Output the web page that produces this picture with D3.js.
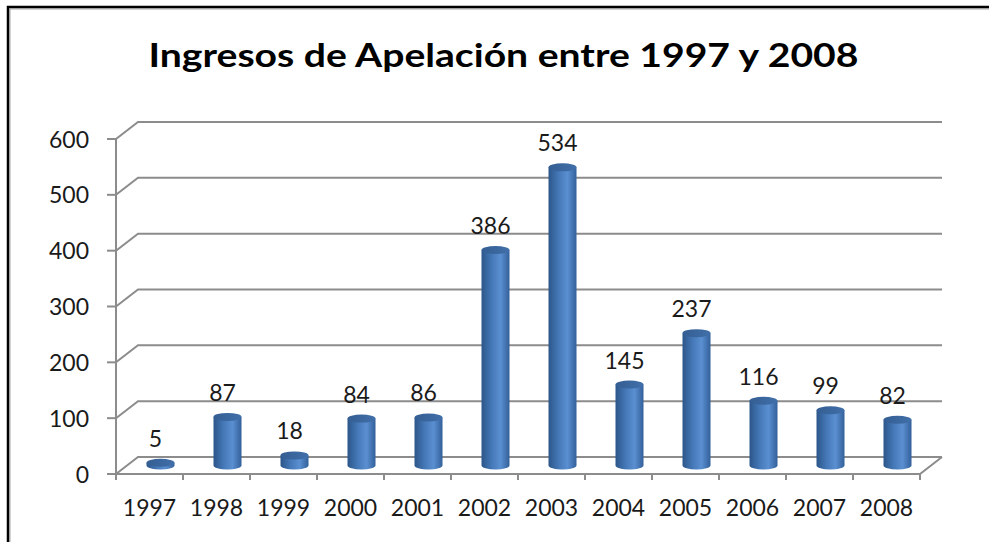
<!DOCTYPE html>
<html>
<head>
<meta charset="utf-8">
<script src="https://d3js.org/d3.v7.min.js"></script>
<style>
  body { margin: 0; background: #fff; }
  svg { display: block; }
</style>
</head>
<body>
<svg id="chart"></svg>
<script>
var titleText = 'Ingresos de Apelación entre 1997 y 2008'
var years = ['1997', '1998', '1999', '2000', '2001', '2002', '2003', '2004', '2005', '2006', '2007', '2008']
var ingresos = [5, 87, 18, 84, 86, 386, 534, 145, 237, 116, 99, 82]
var yTicks = [0, 100, 200, 300, 400, 500, 600]

var width = 989
var height = 542
var depthX = 22, depthY = -17
var gridColor = '#8c8c8c'
var font = 'Lato, "Open Sans", sans-serif'

var svg = d3.select('#chart')
    .attr('width', width)
    .attr('height', height)

var defs = svg.append('defs')
var bodyGrad = defs.append('linearGradient').attr('id', 'bodyGrad')
    .attr('x1', '0%').attr('x2', '100%').attr('y1', '0%').attr('y2', '0%')
bodyGrad.append('stop').attr('offset', '0%').attr('stop-color', '#2c5689')
bodyGrad.append('stop').attr('offset', '35%').attr('stop-color', '#4477b6')
bodyGrad.append('stop').attr('offset', '68%').attr('stop-color', '#5a8fd1')
bodyGrad.append('stop').attr('offset', '100%').attr('stop-color', '#33609a')

var topGrad = defs.append('linearGradient').attr('id', 'topGrad')
    .attr('x1', '0%').attr('x2', '100%').attr('y1', '0%').attr('y2', '0%')
topGrad.append('stop').attr('offset', '0%').attr('stop-color', '#345e93')
topGrad.append('stop').attr('offset', '100%').attr('stop-color', '#416fa9')

// chart frame
svg.append('path')
    .attr('d', 'M10,' + height + ' L10,9 L' + width + ',9')
    .attr('fill', 'none')
    .attr('stroke', '#a8a8a8')
    .attr('stroke-width', 1)
svg.append('path')
    .attr('d', 'M8,' + height + ' L8,7 L' + width + ',7')
    .attr('fill', 'none')
    .attr('stroke', '#000')
    .attr('stroke-width', 2.5)

// title
svg.append('text')
    .attr('x', 503.5)
    .attr('y', 67)
    .attr('text-anchor', 'middle')
    .attr('font-family', font)
    .attr('font-weight', 'bold')
    .attr('font-size', 33)
    .attr('textLength', 710)
    .attr('lengthAdjust', 'spacingAndGlyphs')
    .attr('fill', '#000')
    .text(titleText)

var xScale = d3.scaleBand().domain(years).range([116, 920]).padding(0)
var yScale = d3.scaleLinear().domain([0, 600]).range([474, 139])

var g = svg.append('g')

// back gridlines with diagonal to the front axis
yTicks.forEach(function (t) {
    var y = yScale(t)
    g.append('path')
        .attr('d', 'M116,' + y + ' L' + (116 + depthX) + ',' + (y + depthY) + ' L' + (920 + depthX) + ',' + (y + depthY))
        .attr('fill', 'none')
        .attr('stroke', gridColor)
        .attr('stroke-width', 2)
})

// floor front and right edge
g.append('path')
    .attr('d', 'M116,' + yScale(0) + ' L920,' + yScale(0) + ' L' + (920 + depthX) + ',' + (yScale(0) + depthY))
    .attr('fill', 'none')
    .attr('stroke', gridColor)
    .attr('stroke-width', 2)

// y axis
g.append('line')
    .attr('x1', 116).attr('x2', 116)
    .attr('y1', yScale(600)).attr('y2', yScale(0) + 6)
    .attr('stroke', gridColor)
    .attr('stroke-width', 2)
g.selectAll('.ytick')
    .data(yTicks)
    .enter()
    .append('line')
    .attr('x1', 107).attr('x2', 116)
    .attr('y1', function (d) { return yScale(d) })
    .attr('y2', function (d) { return yScale(d) })
    .attr('stroke', gridColor)
    .attr('stroke-width', 2)
g.selectAll('.ylabel')
    .data(yTicks)
    .enter()
    .append('text')
    .attr('x', 89)
    .attr('y', function (d) { return yScale(d) + 8.5 })
    .attr('text-anchor', 'end')
    .attr('font-family', font)
    .attr('font-size', 23)
    .attr('fill', '#1a1a1a')
    .text(function (d) { return d })

// x ticks
var xTickPos = years.map(function (d) { return xScale(d) }).concat([xScale.range()[1]])
g.selectAll('.xtick')
    .data(xTickPos)
    .enter()
    .append('line')
    .attr('x1', function (d) { return d })
    .attr('x2', function (d) { return d })
    .attr('y1', yScale(0))
    .attr('y2', yScale(0) + 6)
    .attr('stroke', gridColor)
    .attr('stroke-width', 2)
g.selectAll('.xlabel')
    .data(years)
    .enter()
    .append('text')
    .attr('x', function (d) { return xScale(d) + xScale.bandwidth() / 2 })
    .attr('y', 516)
    .attr('text-anchor', 'middle')
    .attr('font-family', font)
    .attr('font-size', 23)
    .attr('fill', '#1a1a1a')
    .text(function (d) { return d })

// cylinders
var rx = 14, ry = 4
var data = years.map(function (y, i) { return {year: y, value: ingresos[i]} })
function cx(d) { return xScale(d.year) + xScale.bandwidth() / 2 + depthX / 2 }
function baseY() { return yScale(0) + depthY / 2 }
function topY(d) { return yScale(d.value) + depthY / 2 }

var bars = g.selectAll('.bar')
    .data(data)
    .enter()
    .append('g')
    .attr('class', 'bar')
bars.append('path')
    .attr('d', function (d) {
        var x = cx(d), b = baseY(), t = topY(d)
        return 'M' + (x - rx) + ',' + t + ' L' + (x - rx) + ',' + b +
            ' A' + rx + ',' + ry + ' 0 0 0 ' + (x + rx) + ',' + b +
            ' L' + (x + rx) + ',' + t + ' Z'
    })
    .attr('fill', 'url(#bodyGrad)')
bars.append('ellipse')
    .attr('cx', cx)
    .attr('cy', topY)
    .attr('rx', rx)
    .attr('ry', ry)
    .attr('fill', 'url(#topGrad)')
bars.append('text')
    .attr('x', function (d) { return xScale(d.year) + xScale.bandwidth() / 2 + 6 })
    .attr('y', function (d) { return topY(d) - 16 })
    .attr('text-anchor', 'middle')
    .attr('font-family', font)
    .attr('font-size', 23)
    .attr('fill', '#1a1a1a')
    .text(function (d) { return d.value })
</script>
</body>
</html>
